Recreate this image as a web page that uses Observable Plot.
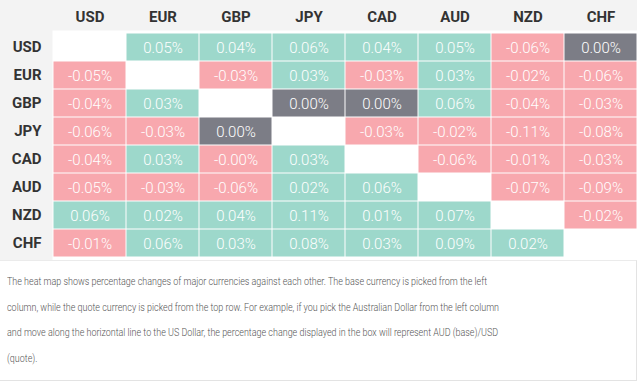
<!DOCTYPE html>
<html>
<head>
<meta charset="utf-8">
<script src="https://cdn.jsdelivr.net/npm/d3@7"></script>
<script src="https://cdn.jsdelivr.net/npm/@observablehq/plot@0.6"></script>
<style>
  html, body { margin: 0; padding: 0; background: #fff; }
  #wrap { width: 641px; }
  #chart svg { display: block; background: #f3f3f3; }
  #caption {
    width: 629px;
    height: 111px;
    box-sizing: content-box;
    padding: 8px 0 0 7px;
    border-top: 1px solid #ebebeb;
    border-right: 1px solid #e3e3e3;
    border-bottom: 1px solid #e3e3e3;
    overflow: hidden;
  }
  #caption div {
    width: 618px;
    transform: scaleX(0.815);
    transform-origin: 0 0;
    font-family: Roboto, sans-serif;
    font-weight: 300;
    font-size: 11px;
    line-height: 25.5px;
    color: #555;
  }
</style>
</head>
<body>
<div id="wrap">
  <div id="chart"></div>
  <div id="caption"><div>The heat map shows percentage changes of major currencies against each other. The base currency is picked from the left column, while the quote currency is picked from the top row. For example, if you pick the Australian Dollar from the left column and move along the horizontal line to the US Dollar, the percentage change displayed in the box will represent AUD (base)/USD (quote).</div></div>
</div>
<script>
const currencies = ["USD", "EUR", "GBP", "JPY", "CAD", "AUD", "NZD", "CHF"];
// rows = base currency, columns = quote currency (percent change)
const rowUSD = [null, 0.05, 0.04, 0.06, 0.04, 0.05, -0.06, 0.00];
const rowEUR = [-0.05, null, -0.03, 0.03, -0.03, 0.03, -0.02, -0.06];
const rowGBP = [-0.04, 0.03, null, 0.00, 0.00, 0.06, -0.04, -0.03];
const rowJPY = [-0.06, -0.03, 0.00, null, -0.03, -0.02, -0.11, -0.08];
const rowCAD = [-0.04, 0.03, -0, 0.03, null, -0.06, -0.01, -0.03];
const rowAUD = [-0.05, -0.03, -0.06, 0.02, 0.06, null, -0.07, -0.09];
const rowNZD = [0.06, 0.02, 0.04, 0.11, 0.01, 0.07, null, -0.02];
const rowCHF = [-0.01, 0.06, 0.03, 0.08, 0.03, 0.09, 0.02, null];
const rows = [rowUSD, rowEUR, rowGBP, rowJPY, rowCAD, rowAUD, rowNZD, rowCHF];

const isNeg = v => v < 0 || Object.is(v, -0);
const fmt = v => (isNeg(v) ? "-" : "") + Math.abs(v).toFixed(2) + "%";
const cls = v => isNeg(v) ? "down" : (v === 0 ? "flat" : "up");

const data = [];
rows.forEach((r, i) => r.forEach((v, j) => {
  if (v !== null) data.push({base: currencies[i], quote: currencies[j], value: v, label: fmt(v), cls: cls(v)});
}));

const chart = Plot.plot({
  width: 637,
  height: 260,
  marginLeft: 52,
  marginRight: 0,
  marginTop: 30,
  marginBottom: 0,
  style: {fontFamily: "Roboto, sans-serif", background: "#f3f3f3"},
  x: {domain: currencies, padding: 0, axis: null},
  y: {domain: currencies, padding: 0, axis: null},
  color: {type: "ordinal", domain: ["up", "down", "flat"], range: ["#9dd8cb", "#f8a8ae", "#7c7d86"]},
  marks: [
    Plot.frame({fill: "white", stroke: null}),
    Plot.cell(data, {x: "quote", y: "base", fill: "cls", inset: 0.5}),
    Plot.text(data, {x: "quote", y: "base", text: "label", fill: "white", fontSize: 15, fontWeight: 300, dy: 1}),
    Plot.axisX({anchor: "top", tickSize: 0, tickPadding: 9, fontSize: 15, fontWeight: "bold", fill: "#333", label: null}),
    Plot.axisY({anchor: "left", tickSize: 0, tickPadding: 11, fontSize: 15, fontWeight: "bold", fill: "#333", label: null})
  ]
});
document.getElementById("chart").append(chart);
</script>
</body>
</html>
